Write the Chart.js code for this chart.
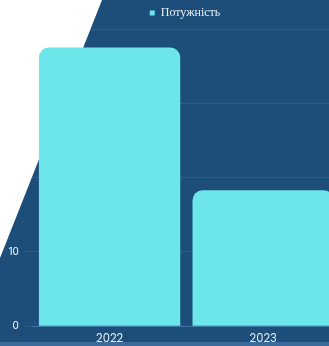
<!DOCTYPE html>
<html>
<head>
<meta charset="utf-8">
<script src="https://cdn.jsdelivr.net/npm/chart.js@4/dist/chart.umd.min.js"></script>
<style>
  html, body { margin: 0; padding: 0; overflow: hidden; background: #1d4e79; }
  #wrap { width: 370px; height: 346px; position: relative; }
</style>
</head>
<body>
<div id="wrap"><canvas id="chart"></canvas></div>
<script>
const years = ["2022", "2023"];
const power = [37.5, 18.3];
const seriesName = "Потужність";

// background: dark blue, white corner wedge, lighter strip at the bottom
const backdrop = {
  id: "backdrop",
  beforeDraw(chart) {
    const { ctx, width, height } = chart;
    ctx.save();
    ctx.fillStyle = "#1d4e79";
    ctx.fillRect(0, 0, width, height);
    ctx.fillStyle = "#ffffff";
    ctx.beginPath();
    ctx.moveTo(0, 0);
    ctx.lineTo(102, 0);
    ctx.lineTo(0, 258);
    ctx.closePath();
    ctx.fill();
    ctx.fillStyle = "#3a6b9b";
    ctx.fillRect(0, height - 4, width, 4);
    ctx.restore();
  }
};

new Chart(document.getElementById("chart"), {
  type: "bar",
  data: {
    labels: years,
    datasets: [
      {
        label: seriesName,
        data: power,
        backgroundColor: "#6ce6ea",
        borderRadius: 10,
        borderSkipped: "start",
        barPercentage: 0.92,
        categoryPercentage: 1.0
      }
    ]
  },
  options: {
    responsive: true,
    maintainAspectRatio: false,
    animation: false,
    layout: { padding: { left: 0, right: 0, top: 0, bottom: 2 } },
    plugins: {
      legend: {
        labels: {
          color: "#e6eef6",
          boxWidth: 5,
          boxHeight: 5,
          padding: 7,
          font: { family: "Liberation Serif", size: 12 }
        }
      },
      tooltip: { enabled: false }
    },
    scales: {
      x: {
        grid: { display: false },
        border: { color: "#3f78a8" },
        ticks: { color: "#e6eef6", font: { family: "Poppins, Inter, sans-serif", size: 11.5 }, padding: -2 },
      },
      y: {
        min: 0,
        max: 40,
        ticks: { stepSize: 10, color: "#ffffff", font: { family: "Inter, sans-serif", size: 10 }, padding: 6 },
        grid: { color: "rgba(255,255,255,0.08)" },
        border: { display: false }
      },
      // empty right gutter, part of the original layout (off-screen)
      gutter: {
        type: "linear",
        position: "right",
        display: true,
        ticks: { display: false },
        grid: { display: false },
        border: { display: false },
        afterFit(scale) { scale.width = 30; }
      }
    }
  },
  plugins: [backdrop]
});
</script>
</body>
</html>
